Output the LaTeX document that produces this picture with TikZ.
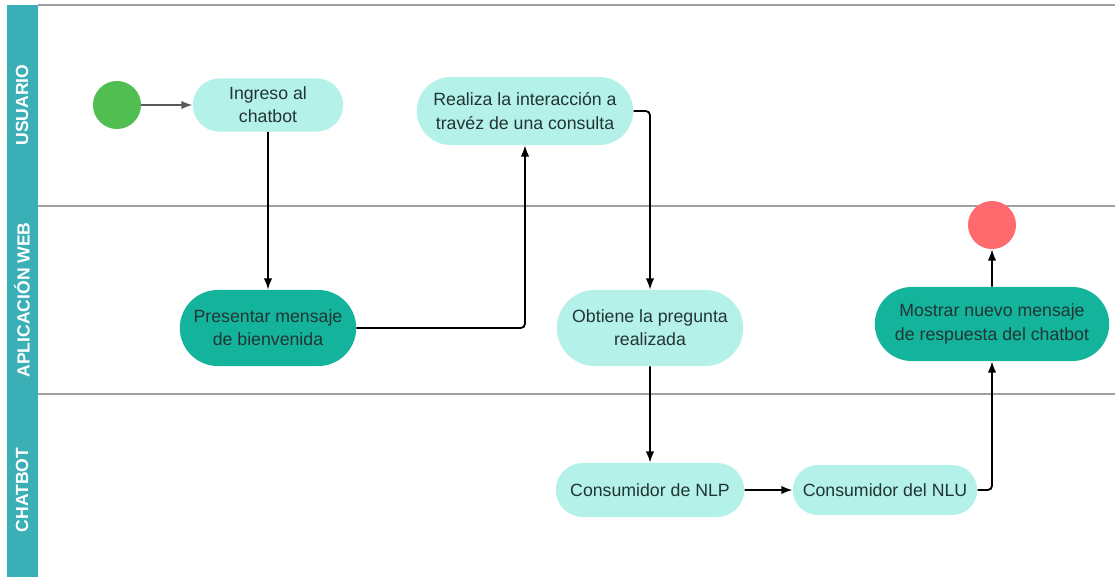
\documentclass[tikz,border=0pt]{standalone}
\usepackage{fontspec}
\setmainfont{Liberation Sans}
\usetikzlibrary{arrows.meta,shapes.misc,positioning,calc}
\definecolor{lanebar}{RGB}{58,176,182}
\definecolor{lanegray}{RGB}{160,160,160}
\definecolor{actlight}{RGB}{180,241,233}
\definecolor{actdark}{RGB}{20,180,156}
\definecolor{acttext}{RGB}{34,52,52}
\definecolor{startgreen}{RGB}{80,190,80}
\definecolor{endred}{RGB}{255,106,110}

\begin{document}
\begin{tikzpicture}
[x=0.025cm,y=-0.025cm,
>={Latex[length=8pt,width=6pt]},
act/.style={shape=rounded rectangle,fill=actlight,text=acttext,align=center,
  inner xsep=2pt,inner ysep=2pt,font=\fontsize{12.6}{16.5}\selectfont},
actdk/.style={act,fill=actdark},
state/.style={shape=circle,minimum size=1.2cm,inner sep=0pt},
lanelabel/.style={rotate=90,text=white,font=\fontsize{12.5}{14}\selectfont\bfseries},
laneline/.style={lanegray,line width=1pt},
flow/.style={->,line width=1.3pt,rounded corners=3pt}]
\useasboundingbox (0,0) rectangle (1115,577);
%%
% lanes
%%
\fill[lanebar] (7,5) rectangle (38,577);
\draw[laneline] (38,5) -- (1115,5);
\draw[laneline] (38,206) -- (1115,206);
\draw[laneline] (38,394) -- (1115,394);
\node[lanelabel] (usuario) at (22,105) {USUARIO};
\node[lanelabel] (aplicacion) at (22,300) {APLICACIÓN WEB};
\node[lanelabel] (chatbot) at (22,490) {CHATBOT};
%%
% activities
%%
\node[state,fill=startgreen] (inicio) at (117,105) {};
\node[act,minimum width=3.9cm,minimum height=1.33cm] (ingreso) at (268,105) {Ingreso al\\chatbot};
\node[act,minimum width=5.55cm,minimum height=1.7cm] (realiza) at (525,111) {Realiza la interacción a\\travéz de una consulta};
\node[actdk,minimum width=4.55cm,minimum height=1.9cm] (presentar) at (268,328) {Presentar mensaje\\de bienvenida};
\node[act,minimum width=4.8cm,minimum height=1.9cm] (obtiene) at (650,328) {Obtiene la pregunta\\realizada};
\node[actdk,minimum width=6cm,minimum height=1.85cm] (mostrar) at (992,324) {Mostrar nuevo mensaje\\de respuesta del chatbot};
\node[state,fill=endred] (fin) at (992,225) {};
\node[act,minimum width=4.85cm,minimum height=1.35cm] (nlp) at (650,490) {Consumidor de NLP};
\node[act,minimum width=4.75cm,minimum height=1.25cm] (nlu) at (885,490) {Consumidor del NLU};
%%
% flow
%%
\draw[flow,black!65] (inicio) -- (ingreso);
\draw[flow] (ingreso) -- (presentar);
\draw[flow] (presentar.east) -| (realiza.south);
\draw[flow] (realiza.east) -| (obtiene.north);
\draw[flow] (obtiene) -- (nlp);
\draw[flow] (nlp) -- (nlu);
\draw[flow] (nlu.east) -| (mostrar.south);
\draw[flow] (mostrar) -- (fin);
\end{tikzpicture}
\end{document}
